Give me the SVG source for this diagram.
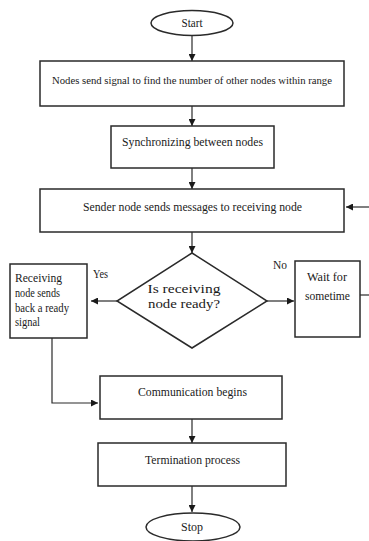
<svg xmlns="http://www.w3.org/2000/svg" width="369" height="541" viewBox="0 0 369 541">
<style>
.box{fill:#fff;stroke:#2a2a2a;stroke-width:1.5}
.t{font-family:"Liberation Serif","Times New Roman",serif;font-size:13px;fill:#1a1a1a}
.c{text-anchor:middle}
.ln{fill:none;stroke:#2a2a2a;stroke-width:1.2}
</style>
<defs>
<marker id="ah" viewBox="0 0 10 10" refX="10" refY="5" markerWidth="7" markerHeight="7" markerUnits="userSpaceOnUse" orient="auto">
<path d="M0,0 L10,5 L0,10 z" fill="#1a1a1a"/>
</marker>
</defs>
<rect width="369" height="541" fill="#fff"/>
<g id="connectors">
<line class="ln" x1="192" y1="36" x2="192" y2="61" marker-end="url(#ah)"/>
<line class="ln" x1="192" y1="106" x2="192" y2="126" marker-end="url(#ah)"/>
<line class="ln" x1="192" y1="168" x2="192" y2="189" marker-end="url(#ah)"/>
<line class="ln" x1="192" y1="232" x2="192" y2="253" marker-end="url(#ah)"/>
<line class="ln" x1="369" y1="207" x2="346" y2="207" marker-end="url(#ah)"/>
<line class="ln" x1="117" y1="301" x2="91" y2="301" marker-end="url(#ah)"/>
<line class="ln" x1="267" y1="301" x2="294" y2="301" marker-end="url(#ah)"/>
<line class="ln" x1="360" y1="295" x2="369" y2="295"/>
<polyline class="ln" points="52,338 52,403 98,403" marker-end="url(#ah)"/>
<line class="ln" x1="192" y1="419" x2="192" y2="443" marker-end="url(#ah)"/>
<line class="ln" x1="192" y1="486" x2="192" y2="512" marker-end="url(#ah)"/>
</g>
<g id="start">
<ellipse class="box" cx="192" cy="23" rx="41" ry="12.5"/>
<text class="t c" x="192" y="27" textLength="21" lengthAdjust="spacingAndGlyphs">Start</text>
</g>
<g id="find-nodes">
<rect class="box" x="40" y="61" width="304" height="45"/>
<text class="t c" x="192" y="84" style="font-size:10.7px">Nodes send signal to find the number of other nodes within range</text>
</g>
<g id="sync">
<rect class="box" x="111" y="126" width="163" height="42"/>
<text class="t c" x="192.5" y="146" textLength="141" lengthAdjust="spacingAndGlyphs">Synchronizing between nodes</text>
</g>
<g id="send">
<rect class="box" x="40" y="189" width="304" height="43"/>
<text class="t c" x="192.5" y="211" textLength="219" lengthAdjust="spacingAndGlyphs">Sender node sends messages to receiving node</text>
</g>
<g id="decision">
<polygon class="box" points="192,253 267,301 192,348 117,301"/>
<text class="t c" x="184" y="293" textLength="73" lengthAdjust="spacingAndGlyphs">Is receiving</text>
<text class="t c" x="184" y="308" textLength="72" lengthAdjust="spacingAndGlyphs">node ready?</text>
</g>
<g id="ready-signal">
<rect class="box" x="10" y="264" width="77" height="74"/>
<text class="t" x="15" y="282" textLength="47" lengthAdjust="spacingAndGlyphs">Receiving</text>
<text class="t" x="15" y="297" textLength="45" lengthAdjust="spacingAndGlyphs">node sends</text>
<text class="t" x="15" y="312" textLength="54" lengthAdjust="spacingAndGlyphs">back a ready</text>
<text class="t" x="15" y="326" textLength="25" lengthAdjust="spacingAndGlyphs">signal</text>
</g>
<g id="wait">
<rect class="box" x="295" y="261" width="65" height="76"/>
<text class="t c" x="327" y="281" textLength="40" lengthAdjust="spacingAndGlyphs">Wait for</text>
<text class="t c" x="327.5" y="300" textLength="45" lengthAdjust="spacingAndGlyphs">sometime</text>
</g>
<g id="labels">
<text class="t" x="93" y="278" textLength="15" lengthAdjust="spacingAndGlyphs">Yes</text>
<text class="t" x="273" y="269" textLength="14" lengthAdjust="spacingAndGlyphs">No</text>
</g>
<g id="communication">
<rect class="box" x="100" y="376" width="182" height="43"/>
<text class="t c" x="192.5" y="396" textLength="109" lengthAdjust="spacingAndGlyphs">Communication begins</text>
</g>
<g id="termination">
<rect class="box" x="98" y="443" width="188" height="43"/>
<text class="t c" x="192.5" y="464" textLength="95" lengthAdjust="spacingAndGlyphs">Termination process</text>
</g>
<g id="stop">
<ellipse class="box" cx="193" cy="527" rx="47" ry="14"/>
<text class="t c" x="192" y="531" textLength="22" lengthAdjust="spacingAndGlyphs">Stop</text>
</g>
</svg>
